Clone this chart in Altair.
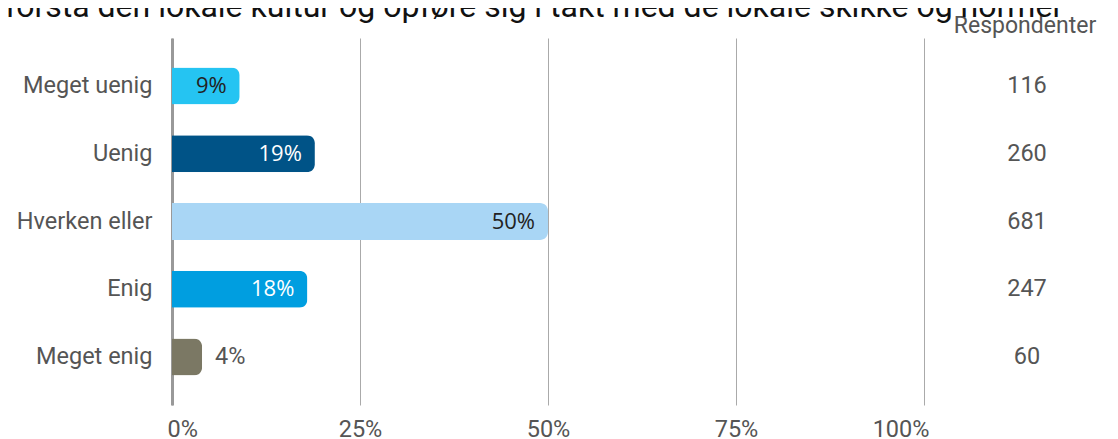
import altair as alt
import pandas as pd

categories = ["Meget uenig", "Uenig", "Hverken eller", "Enig", "Meget enig"]
percent = [9, 19, 50, 18, 4]
respondents = [116, 260, 681, 247, 60]
bar_colors = ["#25c4f2", "#005387", "#a9d6f5", "#009ee0", "#7b7864"]
label_colors = ["#222222", "#ffffff", "#222222", "#ffffff", "#555555"]
title_text = "forstå den lokale kultur og opføre sig i takt med de lokale skikke og normer"
resp_header = "Respondenter"

df = pd.DataFrame({
    "cat": categories,
    "pct": percent,
    "n": respondents,
    "label": [f"{p}%" for p in percent],
})

W, H = 752, 367

y_enc = alt.Y("cat:N", sort=categories,
              scale=alt.Scale(paddingInner=0.454, paddingOuter=0.435),
              axis=alt.Axis(title=None, ticks=False, labelFontSize=23.5, labelFont="Roboto",
                            labelColor="#555555", labelPadding=20, domainColor="#999999",
                            domainWidth=3, grid=False))
x_scale = alt.Scale(domain=[0, 100], nice=False)

bars = alt.Chart(df).mark_bar(cornerRadiusEnd=8).encode(
    x=alt.X("pct:Q", scale=x_scale,
            axis=alt.Axis(title=None, values=[0, 25, 50, 75, 100], labelExpr="datum.value + '%'",
                          labelFlush=True, labelFlushOffset=5, ticks=False, domain=False, grid=True,
                          gridColor="#aaaaaa", gridWidth=1, labelFontSize=23.5,
                          labelFont="Roboto", labelColor="#555555", labelPadding=12)),
    y=y_enc,
    color=alt.Color("cat:N", scale=alt.Scale(domain=categories, range=bar_colors), legend=None),
)

inside = alt.Chart(df).transform_filter("datum.pct >= 5").mark_text(
    align="right", baseline="middle", dx=-13, fontSize=22, font="Open Sans"
).encode(
    x=alt.X("pct:Q", scale=x_scale),
    y=alt.Y("cat:N", sort=categories),
    text="label:N",
    color=alt.Color("cat:N", scale=alt.Scale(domain=categories, range=label_colors), legend=None),
)

outside = alt.Chart(df).transform_filter("datum.pct < 5").mark_text(
    align="left", baseline="middle", dx=13, fontSize=23.5, font="Roboto", color="#555555"
).encode(
    x=alt.X("pct:Q", scale=x_scale),
    y=alt.Y("cat:N", sort=categories),
    text="label:N",
)

counts = alt.Chart(df).mark_text(
    align="center", baseline="middle", fontSize=23.5, font="Roboto", color="#555555"
).encode(
    x=alt.value(855),
    y=alt.Y("cat:N", sort=categories),
    text="n:Q",
)

header = alt.Chart(pd.DataFrame({"t": [resp_header]})).mark_text(
    align="center", baseline="middle", fontSize=23, font="Roboto", color="#555555"
).encode(x=alt.value(853), y=alt.value(-12), text="t:N")

title = alt.Chart(pd.DataFrame({"t": [title_text]})).mark_text(
    align="left", baseline="alphabetic", fontSize=32, font="Roboto", color="#111111"
).encode(x=alt.value(-167), y=alt.value(-21), text="t:N")

chart = alt.layer(bars, inside, outside, counts, header, title).resolve_scale(
    color="independent"
).properties(
    width=W, height=H,
    autosize=alt.AutoSizeParams(type="none"),
    padding={"left": 164, "top": 30, "right": 186, "bottom": 34},
).configure_view(stroke=None)

chart.save("out.html", embed_options={"renderer": "svg", "actions": False})
